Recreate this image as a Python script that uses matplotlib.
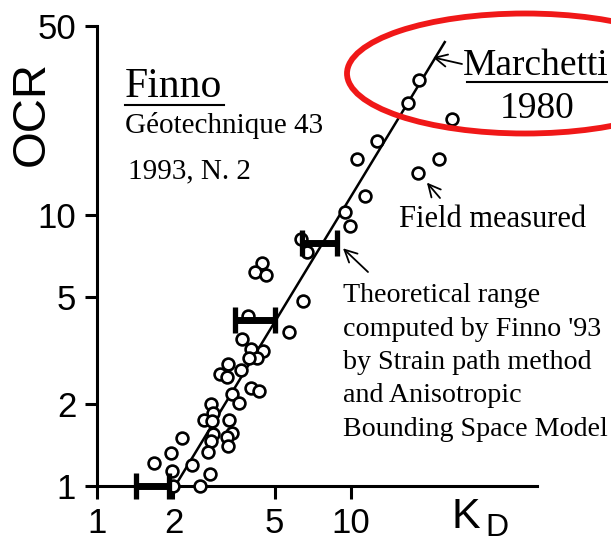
import matplotlib
matplotlib.use("Agg")
import matplotlib.pyplot as plt
from matplotlib.patches import Ellipse
from matplotlib.lines import Line2D

# field measured points (K_D, OCR)
kd_field = [4.45, 4.19, 4.62, 6.45, 3.93, 5.70, 3.73, 4.03, 4.52, 4.27,
            3.97, 3.28, 3.04, 3.24, 3.69, 3.41, 4.04, 4.36, 3.63, 2.82,
            2.87, 2.64, 2.83, 3.32, 2.87, 2.80, 3.41, 3.24, 3.27, 2.74,
            2.16, 1.96, 1.67, 2.36, 1.97, 2.79, 2.00, 2.54,
            6.71, 6.33, 9.91, 9.47, 11.4, 18.4, 10.6, 22.2, 12.7, 25.1, 16.7, 18.6]
ocr_field = [6.68, 6.18, 6.01, 4.84, 4.24, 3.69, 3.50, 3.20, 3.15, 2.97,
             2.97, 2.83, 2.60, 2.52, 2.68, 2.18, 2.31, 2.24, 2.02, 2.01,
             1.86, 1.76, 1.74, 1.75, 1.56, 1.47, 1.57, 1.52, 1.41, 1.33,
             1.51, 1.32, 1.22, 1.20, 1.14, 1.11, 1.00, 1.00,
             7.30, 8.15, 9.11, 10.3, 11.8, 14.3, 16.2, 16.1, 18.8, 22.6, 25.9, 31.5]

# Marchetti 1980 correlation line
kd_line = [2.03, 23.4]
ocr_line = [1.0, 43.6]

# theoretical ranges (Finno '93)
range_lo = [1.42, 3.49, 6.40]
range_hi = [1.92, 5.02, 8.81]
range_ocr = [1.0, 4.10, 7.88]

xticks = [1, 2, 5, 10]
yticks = [1, 2, 5, 10, 50]

W, H = 611, 544
fig = plt.figure(figsize=(W / 100, H / 100), dpi=100)
ax = fig.add_axes([97 / W, 1 - 486 / H, 440 / W, 460 / H])


def fp(x, y):
    """pixel (from top-left) -> figure fraction"""
    return x / W, 1 - y / H


ax.set_xscale("log")
ax.set_yscale("log")
ax.set_xlim(1, 54)
ax.set_ylim(1, 50)

ax.plot(kd_line, ocr_line, color="black", lw=1.8, zorder=3)
ax.plot(kd_field, ocr_field, "o", mfc="white", mec="black", ms=8.5, mew=1.9,
        clip_on=False, zorder=4)

for lo, hi, y in zip(range_lo, range_hi, range_ocr):
    ax.plot([lo, hi], [y, y], color="black", lw=5, solid_capstyle="butt",
            clip_on=False, zorder=5)
    ax.plot([lo, hi], [y, y], ls="none", marker="|", ms=19, mew=3.8,
            color="black", clip_on=False, zorder=5)

for side in ["top", "right"]:
    ax.spines[side].set_visible(False)
for side in ["left", "bottom"]:
    ax.spines[side].set_linewidth(2.2)

sans = ["Liberation Sans Narrow", "Liberation Sans"]
serif = "Liberation Serif"

ax.set_xticks(xticks)
ax.set_yticks(yticks)
ax.set_xticklabels([str(t) for t in xticks])
ax.set_yticklabels([str(t) for t in yticks])
ax.minorticks_off()
ax.tick_params(length=9, width=2.2, pad=6, labelsize=25)
for lab in ax.get_xticklabels() + ax.get_yticklabels():
    lab.set_family(sans)

fig.text(*fp(32, 114), "OCR", rotation=90, fontsize=34, family="Liberation Sans",
         ha="center", va="center")
fig.text(*fp(452, 528), "K", fontsize=31, family="Liberation Sans", ha="left",
         va="baseline")
fig.text(*fp(485, 536), "D", fontsize=23, family="Liberation Sans", ha="left",
         va="baseline")

# Finno reference
fig.text(*fp(125, 97), "Finno", fontsize=30, family=serif, va="baseline")
fig.add_artist(Line2D([125 / W, 224 / W], [1 - 105 / H, 1 - 105 / H],
                      color="black", lw=1.5))
fig.text(*fp(125, 133), "Géotechnique 43", fontsize=21, family=serif,
         va="baseline")
fig.text(*fp(128, 178), "1993, N. 2", fontsize=21, family=serif,
         va="baseline")

# Marchetti label and red ellipse
fig.text(*fp(463, 75), "Marchetti", fontsize=27, family=serif, va="baseline")
fig.add_artist(Line2D([467 / W, 607 / W], [1 - 82 / H, 1 - 82 / H],
                      color="black", lw=1.5))
fig.text(*fp(537, 118), "1980", fontsize=27, family=serif, ha="center",
         va="baseline")
fig.add_artist(Ellipse(fp(525, 73.5), 356 / W, 120 / H, fill=False,
                       edgecolor="#f01818", lw=4.2, transform=fig.transFigure,
                       zorder=6))

fig.text(*fp(399, 227), "Field measured", fontsize=22, family=serif,
         va="baseline")

theory_lines = ["Theoretical range", "computed by Finno '93",
                "by Strain path method", "and Anisotropic",
                "Bounding Space Model"]
for i, line in enumerate(theory_lines):
    fig.text(*fp(343, 302 + 33.5 * i), line, fontsize=20.2, family=serif,
             va="baseline")

arrow = dict(arrowstyle="->", lw=1.3, color="black", mutation_scale=22,
             shrinkA=0, shrinkB=0)
ax.annotate("", xy=(21.0, 38.3), xytext=fp(462, 64),
            textcoords="figure fraction", arrowprops=arrow)
ax.annotate("", xy=(19.9, 13.2), xytext=fp(440, 198),
            textcoords="figure fraction", arrowprops=arrow)
ax.annotate("", xy=(9.3, 7.55), xytext=fp(368, 272),
            textcoords="figure fraction", arrowprops=arrow)

fig.savefig("out.png", dpi=100)
